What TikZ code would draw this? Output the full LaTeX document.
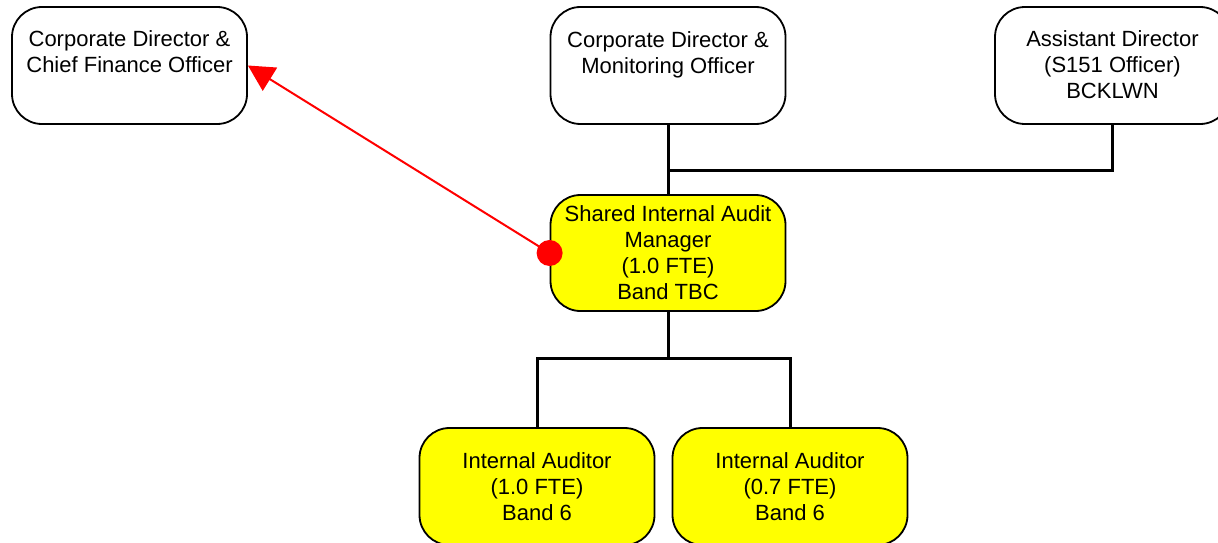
\documentclass[tikz,border=0pt]{standalone}
\usepackage{fontspec}
\setmainfont{Liberation Sans}
\usetikzlibrary{arrows.meta}
\definecolor{postyellow}{RGB}{255,255,0}
\definecolor{linkred}{RGB}{255,0,0}
\begin{document}
\begin{tikzpicture}[x=1pt,y=-1pt,
  post/.style={draw=black, line width=1.8pt, rounded corners=30pt,
    minimum width=235pt, minimum height=117pt, inner sep=0pt,
    align=center, font=\fontsize{22}{26}\selectfont},
  white post/.style={post, fill=white},
  yellow post/.style={post, fill=postyellow},
  caption/.style={align=center, inner sep=0pt, font=\fontsize{22}{26}\selectfont},
  tie/.style={line width=3pt, draw=black},
  dotted link/.style={draw=linkred, line width=2pt, -{Triangle[length=26pt,width=27pt]}},
  ]
\useasboundingbox (0,0) rectangle (1218,543);
\clip (0,0) rectangle (1218,543);

% top row
\node[white post] (cfo) at (129.5,65.5) {};
\node[caption] (cfo-t) at (129.5,52) {Corporate Director \&\\Chief Finance Officer};
\node[white post] (mo) at (668,65.5) {};
\node[caption] (mo-t) at (668,54.5) {Corporate Director \&\\Monitoring Officer};
\node[white post] (ad) at (1112.5,65.5) {};
\node[caption] (ad-t) at (1112.5,64.5) {Assistant Director\\(S151 Officer)\\BCKLWN};

% manager
\node[yellow post, minimum height=116pt] (mgr) at (668,253)
  {Shared Internal Audit\\Manager\\(1.0 FTE)\\Band TBC};

% auditors
\node[yellow post] (ia1) at (537,486.5) {Internal Auditor\\(1.0 FTE)\\Band 6};
\node[yellow post] (ia2) at (790,486.5) {Internal Auditor\\(0.7 FTE)\\Band 6};

% reporting lines
\coordinate (j1) at (668,170);
\coordinate (j2) at (668,358);
\draw[tie] (mo.south) -- (mgr.north);
\draw[tie] (ad.south) |- (j1);
\draw[tie] (mgr.south) -- (j2);
\draw[tie] (ia1.north) |- (j2) -| (ia2.north);

% dotted-line report to the CFO
\node[circle, fill=linkred, minimum size=26pt, inner sep=0pt] (dot) at (mgr.west) {};
\draw[dotted link] (dot.center) -- (cfo.east);
\end{tikzpicture}
\end{document}
